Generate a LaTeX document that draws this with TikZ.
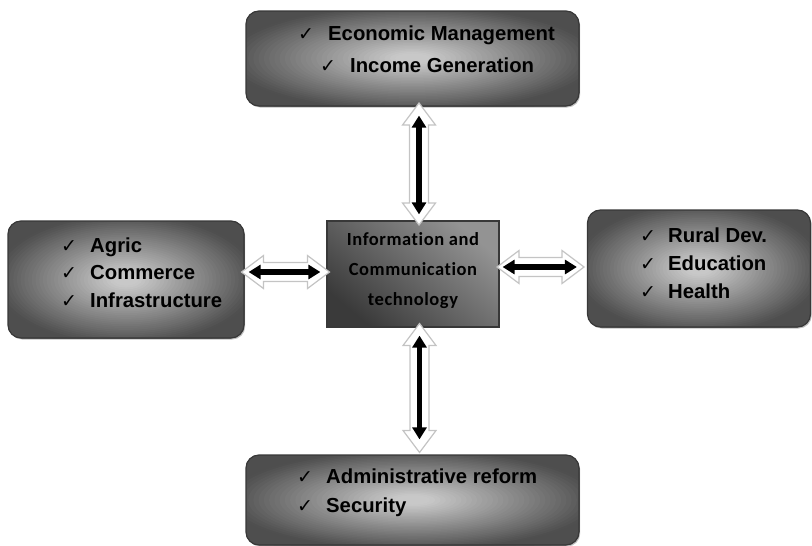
\documentclass[tikz,border=0pt]{standalone}
\usepackage{fontspec}
\setmainfont{Liberation Sans}
\newfontfamily\ckfont{DejaVu Sans}
\newfontfamily\ictfont{Carlito}[LetterSpace=3,Ligatures=NoCommon]
\usetikzlibrary{arrows.meta,calc,shadows}
\definecolor{shL}{HTML}{C8C8C8}
\definecolor{shDD}{HTML}{4E4E4E}
\definecolor{boxedge}{HTML}{383838}
\definecolor{ictL}{HTML}{939393}
\definecolor{ictD}{HTML}{3A3A3A}
\definecolor{hollowedge}{HTML}{C4C4C4}
\begin{document}
\begin{tikzpicture}[x=1pt,y=-1pt,
  infobox/.style 2 args={draw=boxedge, line width=1.2pt, rounded corners=13pt, fill=shDD,
    minimum width=#1pt, minimum height=#2pt,
    drop shadow={shadow xshift=1.2pt, shadow yshift=-1.5pt, opacity=0.25, fill=black},
    path picture={
      \foreach \i in {0,...,44} {
        \pgfmathsetmacro{\tt}{1.46-\i*0.0315}
        \pgfmathsetmacro{\pct}{max(0,min(100,100*(1.12-\tt)/1.0))}
        \fill[color=shL!\pct!shDD] (path picture bounding box.center)
          ellipse [x radius=\tt*#1/2, y radius=\tt*#2/2];
      }},
    inner sep=0pt},
  ictbox/.style={draw=boxedge, line width=1.2pt, shading=axis, top color=ictL, bottom color=ictD,
    shading angle=-40, inner sep=0pt},
  ck/.style={font=\ckfont\fontsize{19pt}{22pt}\selectfont, inner sep=0pt, anchor=base west},
  lbl/.style={font=\bfseries\fontsize{20.3pt}{24pt}\selectfont, inner sep=0pt, anchor=base west},
  ictlbl/.style={font=\ictfont\bfseries\fontsize{18.5pt}{30pt}\selectfont, align=center, inner sep=0pt},
  hollow/.style={draw=hollowedge, line width=1.2pt, fill=white},
  link/.style={line width=5.5pt, {Triangle[width=14pt,length=12pt]}-{Triangle[width=14pt,length=12pt]}},
  pics/harrow/.style={code={
    \pgfmathsetmacro{\hh}{#1/2}
    \pgfmathsetmacro{\hb}{#1/2-22}
    \draw[hollow] (-\hh,0) -- (-\hb,16.5) -- (-\hb,9.5) -- (\hb,9.5) -- (\hb,16.5) -- (\hh,0)
      -- (\hb,-16.5) -- (\hb,-9.5) -- (-\hb,-9.5) -- (-\hb,-16.5) -- cycle;
  }}
]
\useasboundingbox (0,0) rectangle (812,546);

% boxes
\node[infobox={333}{95}] (top) at (412.5,58.5) {};
\node[infobox={236}{117}] (left) at (126,279.5) {};
\node[infobox={223}{117}] (right) at (699,268.5) {};
\node[infobox={333}{90}] (bottom) at (412.5,500) {};
\node[ictbox, minimum width=172pt, minimum height=106pt] (ict) at (413,274) {};
\node[ictlbl] (ictt) at (413,270.5) {Information and\\Communication\\technology};

% arrow centre lines
\coordinate (ta) at (419,164);
\coordinate (ba) at (419.5,388);
\coordinate (la) at (285.5,272);
\coordinate (ra) at (540.5,267);

% hollow outline arrows
\pic[rotate=90] at (ta) {harrow=122};
\pic[rotate=90] at (ba) {harrow=129};
\pic at (la) {harrow=88};
\pic at (ra) {harrow=87};

% black connectors
\draw[link, shorten <=9pt, shorten >=6pt] (top.south -| ta) -- (ict.north -| ta);
\draw[link, shorten <=8pt, shorten >=15pt] (ict.south -| ba) -- (bottom.north -| ba);
\draw[link, shorten <=4pt, shorten >=6pt] (left.east |- la) -- (ict.west |- la);
\draw[link, shorten <=3pt, shorten >=10pt] (ict.east |- ra) -- (right.west |- ra);

% top box text
\node[ck] (tc1) at (298,40) {✓};
\node[lbl] (tt1) at (328,40) {Economic Management};
\node[ck] (tc2) at (320,72) {✓};
\node[lbl] (tt2) at (350,72) {Income Generation};

% left box text
\node[ck] (lc1) at (61,252) {✓};
\node[lbl] (lt1) at (90,252) {Agric};
\node[ck] (lc2) at (61,279) {✓};
\node[lbl] (lt2) at (90,279) {Commerce};
\node[ck] (lc3) at (61,307) {✓};
\node[lbl] (lt3) at (90,307) {Infrastructure};

% right box text
\node[ck] (rc1) at (640,242) {✓};
\node[lbl] (rt1) at (668,242) {Rural Dev.};
\node[ck] (rc2) at (640,270) {✓};
\node[lbl] (rt2) at (668,270) {Education};
\node[ck] (rc3) at (640,298) {✓};
\node[lbl] (rt3) at (668,298) {Health};

% bottom box text
\node[ck] (bc1) at (297,483) {✓};
\node[lbl] (bt1) at (326,483) {Administrative reform};
\node[ck] (bc2) at (297,512) {✓};
\node[lbl] (bt2) at (326,512) {Security};
\end{tikzpicture}
\end{document}
